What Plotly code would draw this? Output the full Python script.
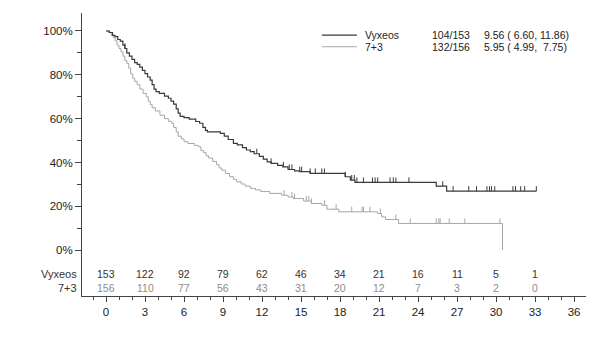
import numpy as np
import plotly.graph_objects as go

# ---- data ----
vyx_t = [0, 0.25, 0.5, 0.7, 0.9, 1.1, 1.3, 1.45, 1.6, 1.8, 2.0, 2.2, 2.4, 2.6, 2.8, 3.0, 3.2, 3.4,
         3.55, 3.7, 3.85, 4.1, 4.5, 4.8, 5.0, 5.2, 5.4, 5.55, 5.7, 6.0, 6.4, 6.9, 7.2, 7.45, 7.65,
         7.8, 8.8, 9.1, 9.4, 9.8, 10.1, 10.5, 10.8, 11.1, 11.4, 11.8, 12.1, 12.4, 12.7, 13.2, 13.6,
         14.0, 14.5, 14.9, 15.7, 18.4, 18.8, 19.15, 25.4, 26.2, 33.1]
vyx_s = [100, 99.3, 98, 97.4, 96.1, 95.4, 93.5, 92, 90, 88.5, 87, 85.6, 84.8, 83.5, 82, 80.5, 79, 77.6,
         75.5, 73.5, 72.3, 71.5, 70.3, 69.3, 68, 66.6, 64.5, 62.5, 61, 60.5, 59.8, 58.7, 57.9, 56, 54.7,
         54, 53.3, 52, 50.5, 48.7, 48, 46.8, 45.7, 45, 44, 42.8, 41.5, 40.3, 39.6, 38.7, 38,
         36.8, 36.2, 35.8, 35, 33.5, 32, 30.9, 29.2, 26.9, 26.9]
vyx_cens = [1.46, 11.6, 12.7, 13.64, 14.1, 14.3, 14.9, 15.05, 15.7, 16.1, 16.6, 16.8, 18.4, 18.9,
            19.1, 19.3, 19.8, 20.5, 20.7, 20.9, 21.85, 22.1, 22.3, 23.3, 25.9, 26.7, 27.9, 28.5,
            29.3, 29.5, 29.65, 29.9, 31.3, 31.5, 31.9, 32.2, 33.1]

ctl_t = [0, 0.2, 0.4, 0.56, 0.7, 0.85, 1.0, 1.15, 1.3, 1.45, 1.6, 1.75, 1.9, 2.05, 2.2, 2.4, 2.6,
         2.85, 3.1, 3.25, 3.4, 3.55, 3.8, 4.15, 4.5, 4.8, 5.05, 5.2, 5.4, 5.55, 5.8, 6.0, 6.3, 6.8,
         7.1, 7.3, 7.5, 7.7, 7.9, 8.2, 8.5, 8.7, 8.9, 9.2, 9.5, 9.8, 10.05, 10.4, 10.7, 11.1, 11.5,
         11.9, 12.6, 13.5, 14.0, 14.4, 15.2, 15.8, 16.6, 17.0, 17.9, 20.9, 21.2, 21.5, 22.5, 30.5]
ctl_s = [100, 99.4, 98, 97, 95.5, 93.5, 92, 90.5, 88.5, 86.5, 85.2, 83, 80.5, 78.5, 77, 75.5, 73.5,
         71.5, 70, 68, 66.5, 65, 63.5, 61.6, 60, 58.8, 57.9, 56, 54, 52, 50.8, 49.5, 48.7, 47.8,
         47.2, 45.5, 44.5, 43, 42, 40.5, 39, 37.5, 36.5, 35, 33.5, 32.3, 31.2, 30.2, 29.2, 28.2, 27.5,
         26.8, 25.9, 25.1, 24.3, 23.6, 22.4, 21.3, 20.5, 18.7, 17.5, 16.7, 15.2, 14, 12.2, 0]
ctl_cens = [13.7, 14.3, 14.5, 15.4, 15.6, 15.8, 16.8, 17.7, 18.9, 19.7, 19.8, 20.3, 21.1, 22.3,
            23.4, 25.4, 25.6, 25.7, 26.4, 27.6, 30.3]

risk_times = [0, 3, 6, 9, 12, 15, 18, 21, 24, 27, 30, 33]
vyx_risk = [153, 122, 92, 79, 62, 46, 34, 21, 16, 11, 5, 1]
ctl_risk = [156, 110, 77, 56, 43, 31, 20, 12, 7, 3, 2, 0]

x_ticks = list(range(0, 37, 3))
y_ticks = [0, 20, 40, 60, 80, 100]
y_ticktext = ["0%", "20%", "40%", "60%", "80%", "100%"]

legend_rows = [
    ("Vyxeos", "104/153", "9.56 ( 6.60, 11.86)"),
    ("7+3", "132/156", "5.95 ( 4.99,  7.75)"),
]

DARK = "#3a3a3a"
LIGHT = "#a6a6a6"
FONT = "Arial, Liberation Sans, sans-serif"


def step_value(ts, ss, t):
    i = np.searchsorted(np.array(ts), t, side="right") - 1
    return ss[max(i, 0)]


def cens_segments(ts, ss, cens, h=2.3):
    xs, ys = [], []
    for c in cens:
        v = step_value(ts, ss, c)
        xs += [c, c, None]
        ys += [v, v + h, None]
    return xs, ys


fig = go.Figure()

fig.add_trace(go.Scatter(x=ctl_t, y=ctl_s, mode="lines", line=dict(color=LIGHT, width=1, shape="hv"),
                         hoverinfo="skip", showlegend=False))
cx, cy = cens_segments(ctl_t, ctl_s, ctl_cens)
fig.add_trace(go.Scatter(x=cx, y=cy, mode="lines", line=dict(color=LIGHT, width=1),
                         hoverinfo="skip", showlegend=False))

fig.add_trace(go.Scatter(x=vyx_t, y=vyx_s, mode="lines", line=dict(color=DARK, width=1.2, shape="hv"),
                         hoverinfo="skip", showlegend=False))
vx, vy = cens_segments(vyx_t, vyx_s, vyx_cens)
fig.add_trace(go.Scatter(x=vx, y=vy, mode="lines", line=dict(color=DARK, width=1),
                         hoverinfo="skip", showlegend=False))

annotations = []
# risk table
for t, a, b in zip(risk_times, vyx_risk, ctl_risk):
    annotations.append(dict(x=t, y=-10.9, xref="x", yref="y", text=str(a), showarrow=False,
                            font=dict(family=FONT, size=10.5, color="#333333")))
    annotations.append(dict(x=t, y=-17.1, xref="x", yref="y", text=str(b), showarrow=False,
                            font=dict(family=FONT, size=10.5, color="#8c8c8c")))
annotations.append(dict(x=0, y=-10.9, xref="paper", yref="y", text="Vyxeos", showarrow=False,
                        xanchor="right", xshift=-3, font=dict(family=FONT, size=11, color="#333333")))
annotations.append(dict(x=0, y=-17.1, xref="paper", yref="y", text="7+3", showarrow=False,
                        xanchor="right", xshift=-3, font=dict(family=FONT, size=11, color="#333333")))

# manual legend
leg_y = [98.1, 92.8]
leg_cols = [19.75, 24.9, 28.95]
shapes = []
for (name, ev, med), yy, col in zip(legend_rows, leg_y, [DARK, LIGHT]):
    shapes.append(dict(type="line", xref="x", yref="y", x0=16.6, x1=19.3, y0=yy, y1=yy,
                       line=dict(color=col, width=1.2 if col == DARK else 1)))
    for txt, xx in zip((name, ev, med), leg_cols):
        annotations.append(dict(x=xx, y=yy, xref="x", yref="y", text=txt, showarrow=False,
                                xanchor="left", font=dict(family=FONT, size=10.5, color="#222222")))

fig.update_layout(
    width=600, height=351,
    margin=dict(l=82, r=14, t=13, b=55),
    paper_bgcolor="white", plot_bgcolor="white",
    annotations=annotations, shapes=shapes,
    showlegend=False,
)
fig.update_xaxes(range=[-1.846, 36.92], tickvals=x_ticks, ticktext=[str(v) for v in x_ticks],
                 showline=True, linecolor="#444444", linewidth=1, ticks="outside", ticklen=5,
                 tickcolor="#444444", showgrid=False, zeroline=False,
                 tickfont=dict(family=FONT, size=11.5, color="#222222"),
                 minor=dict(dtick=1, tick0=0, ticks="outside", ticklen=3, tickcolor="#444444"))
fig.update_yaxes(range=[-20.9, 108.2], tickvals=y_ticks, ticktext=y_ticktext,
                 showline=True, linecolor="#444444", linewidth=1, ticks="outside", ticklen=6,
                 tickcolor="#444444", showgrid=False, zeroline=False,
                 tickfont=dict(family=FONT, size=11.5, color="#222222"),
                 minor=dict(tickvals=[10, 30, 50, 70, 90], ticks="outside", ticklen=4,
                            tickcolor="#444444"))

fig.write_html("out.html")
